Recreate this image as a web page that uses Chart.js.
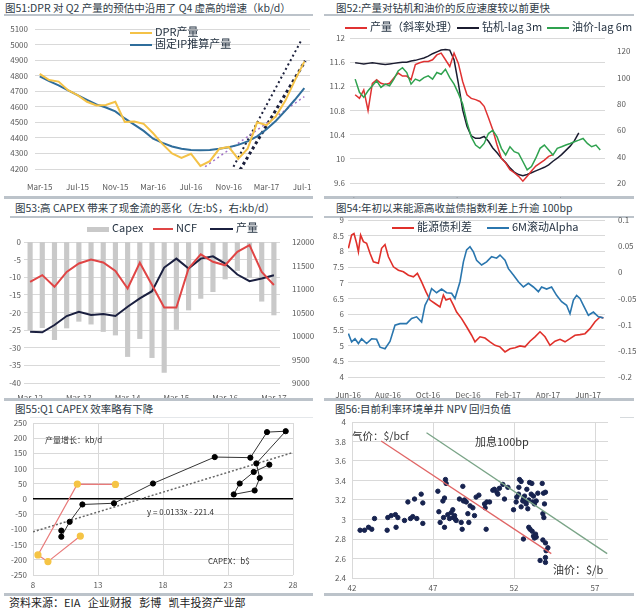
<!DOCTYPE html>
<html>
<head>
<meta charset="utf-8">
<script src="https://cdn.jsdelivr.net/npm/chart.js@4.4.0/dist/chart.umd.min.js"></script>
<style>
  body { margin: 0; width: 640px; height: 610px; background: #fff; position: relative; overflow: hidden;
         font-family: "Noto Sans CJK SC", "Noto Sans", sans-serif; }
  canvas { position: absolute; }
  .t { position: absolute; font-size: 10.5px; line-height: 13px; color: #2e3a46; white-space: nowrap; }
  .rule { position: absolute; background: #bcc3ca; }
  .lg { position: absolute; font-size: 11px; line-height: 12px; color: #1f2d3d; white-space: nowrap; z-index: 2; }
  .lg i { display: inline-block; width: 22px; height: 2px; vertical-align: middle; margin-right: 3px; }
  .note { position: absolute; color: #333; white-space: nowrap; z-index: 2; }
</style>
</head>
<body>

<!-- 标题与分隔线 -->
<div class="t" style="left:5px;top:1px">图51:DPR 对 Q2 产量的预估中沿用了 Q4 虚高的增速（kb/d）</div>
<div class="t" style="left:336px;top:1px">图52:产量对钻机和油价的反应速度较以前更快</div>
<div class="t" style="left:15px;top:201px">图53:高 CAPEX 带来了现金流的恶化（左:b$，右:kb/d）</div>
<div class="t" style="left:336px;top:201px">图54:年初以来能源高收益债指数利差上升逾 100bp</div>
<div class="t" style="left:15px;top:402px">图55:Q1 CAPEX 效率略有下降</div>
<div class="t" style="left:335px;top:402px">图56:目前利率环境单井 NPV 回归负值</div>
<div class="t" style="left:9px;top:596px;font-size:11px;color:#222">资料来源：EIA&nbsp;&nbsp;&nbsp;企业财报&nbsp;&nbsp;&nbsp;彭博&nbsp;&nbsp;&nbsp;凯丰投资产业部</div>

<div class="rule" style="left:4px;top:14px;width:309px;height:2px"></div>
<div class="rule" style="left:324px;top:14px;width:310px;height:2px"></div>
<div class="rule" style="left:4px;top:196px;width:309px;height:3px"></div>
<div class="rule" style="left:324px;top:196px;width:310px;height:3px"></div>
<div class="rule" style="left:10px;top:216px;width:303px;height:2px"></div>
<div class="rule" style="left:324px;top:216px;width:310px;height:2px"></div>
<div class="rule" style="left:4px;top:398px;width:309px;height:3px"></div>
<div class="rule" style="left:324px;top:398px;width:310px;height:3px"></div>
<div class="rule" style="left:30px;top:417px;width:283px;height:1px;background:#e4e7ea"></div>
<div class="rule" style="left:620px;top:417px;width:14px;height:1px;background:#d6dadd"></div>
<div class="rule" style="left:4px;top:593px;width:309px;height:3px"></div>
<div class="rule" style="left:324px;top:593px;width:310px;height:3px"></div>

<canvas id="c51" width="312" height="172" style="left:0;top:20px"></canvas>
<canvas id="c52" width="318" height="166" style="left:322px;top:32px"></canvas>
<canvas id="c53" width="318" height="166" style="left:0;top:232px"></canvas>
<canvas id="c54" width="318" height="184" style="left:322px;top:214px"></canvas>
<canvas id="c55" width="318" height="182" style="left:0;top:412px"></canvas>
<canvas id="c56" width="318" height="182" style="left:322px;top:412px"></canvas>

<!-- 图例 -->
<div class="lg" style="left:130px;top:25px"><i style="background:#f4c247"></i>DPR产量</div>
<div class="lg" style="left:130px;top:37px"><i style="background:#2f6d9b"></i>固定IP推算产量</div>

<div class="lg" style="left:345px;top:20px"><i style="background:#e03232"></i>产量（斜率处理）</div>
<div class="lg" style="left:457px;top:20px"><i style="background:#1b1c30"></i>钻机-lag 3m</div>
<div class="lg" style="left:547px;top:20px"><i style="background:#2fa24f"></i>油价-lag 6m</div>

<div class="lg" style="left:87px;top:221px"><i style="background:#c9c9c9;height:5px"></i>Capex</div>
<div class="lg" style="left:153px;top:221px"><i style="background:#e04545;width:20px"></i>NCF</div>
<div class="lg" style="left:210px;top:221px"><i style="background:#1b2040;width:23px"></i>产量</div>

<div class="lg" style="left:392px;top:220px"><i style="background:#e0302a"></i>能源债利差</div>
<div class="lg" style="left:487px;top:220px"><i style="background:#2a76ae"></i>6M滚动Alpha</div>

<div class="note" style="left:45px;top:434px;font-size:8px">产量增长：kb/d</div>
<div class="note" style="left:147px;top:506px;font-size:8px">y = 0.0133x - 221.4</div>
<div class="note" style="left:208px;top:555px;font-size:8px">CAPEX：b$</div>

<div class="note" style="left:352px;top:428px;font-size:10.5px">气价：$/bcf</div>
<div class="note" style="left:475px;top:433px;font-size:11px">加息100bp</div>
<div class="note" style="left:553px;top:561px;font-size:11px">油价：$/b</div>

<script>
// ---------- 图51 数据（月度，Mar-15 起）----------
const dprTicks = ['Mar-15', 'Jul-15', 'Nov-15', 'Mar-16', 'Jul-16', 'Nov-16', 'Mar-17', 'Jul-17'];
const dprTickPos = [0, 4, 8, 12, 16, 20, 24, 28];
const dprOutput = [4812, 4772, 4762, 4707, 4675, 4632, 4608, 4612, 4632, 4502, 4505, 4490, 4430, 4360, 4300,
  4272, 4298, 4220, 4250, 4330, 4342, 4265, 4330, 4500, 4482, 4540, 4640, 4770, 4890];
const ipOutput = [4795, 4765, 4738, 4705, 4675, 4645, 4615, 4595, 4570, 4525, 4485, 4445, 4395, 4368, 4345,
  4330, 4322, 4320, 4322, 4330, 4340, 4355, 4378, 4410, 4455, 4510, 4575, 4645, 4720];
const fitPurple = [{ x: 17.5, y: 4215 }, { x: 28, y: 4665 }];
const fitBlack = [{ x: 20.5, y: 4215 }, { x: 27.75, y: 5035 }];
const fitNavy = [{ x: 21.2, y: 4195 }, { x: 28.1, y: 4895 }];

// ---------- 图52 数据（月度，Jul-13 起）----------
const lagTicks = ['Jul-13', 'Mar-14', 'Nov-14', 'Jul-15', 'Mar-16', 'Nov-16', 'Jul-17', 'Mar-18'];
const lagTickPos = [0, 8, 16, 24, 32, 40, 48, 56];
const prodSlope = [11.06, 11.0, 11.14, 10.80, 11.25, 11.31, 11.25, 11.23, 11.25, 11.34, 11.42, 11.37, 11.37,
  11.31, 11.56, 11.59, 11.61, 11.61, 11.64, 11.72, 11.75, 11.64, 11.53, 11.75, 11.58, 11.28, 11.06, 11.0, 10.98,
  10.95, 10.87, 10.68, 10.48, 10.23, 10.01, 9.93, 9.82, 9.77, 9.71, 9.63, 9.71, 9.80, 9.88, 9.93, 9.98, 10.04, 10.07];
const rigLag = [11.59, 11.58, 11.57, 11.58, 11.59, 11.58, 11.57, 11.56, 11.57, 11.58, 11.59, 11.60, 11.60, 11.62,
  11.63, 11.65, 11.67, 11.70, 11.74, 11.77, 11.80, 11.81, 11.80, 11.64, 11.25, 10.81, 10.54, 10.38, 10.34, 10.34,
  10.37, 10.29, 10.18, 10.10, 10.01, 9.94, 9.85, 9.78, 9.74, 9.72, 9.74, 9.77, 9.80, 9.83, 9.86, 9.90, 9.96, 10.01,
  10.07, 10.14, 10.21, 10.30, 10.43];
const oilLag = [98.8, 88.8, 85, 90, 93.8, 97.5, 92.5, 95, 93.8, 98.8, 105, 107.5, 103.8, 95, 98.8, 97.5, 100,
  101.3, 98.8, 103.8, 102.5, 106.3, 100, 95, 88, 80, 66, 55, 48.8, 46.3, 50, 57.5, 60, 55, 46.3, 41.3, 47.5,
  43.8, 42.5, 36.3, 30, 32.5, 38.8, 46.3, 48.8, 45, 41.3, 46.3, 47.5, 48.8, 50, 51.3, 52.5, 53.8, 50, 47.5, 48.8, 45];

// ---------- 图53 数据（季度）----------
const quarters = ['Mar-12', 'Jun-12', 'Sep-12', 'Dec-12', 'Mar-13', 'Jun-13', 'Sep-13', 'Dec-13', 'Mar-14',
  'Jun-14', 'Sep-14', 'Dec-14', 'Mar-15', 'Jun-15', 'Sep-15', 'Dec-15', 'Mar-16', 'Jun-16', 'Sep-16', 'Dec-16', 'Mar-17'];
const capex = [-24.9, -24.3, -27.7, -24.4, -22.5, -23.3, -25.4, -26.4, -32.5, -27.4, -32.8, -37.0, -24.8, -19.3,
  -16.0, -14.1, -10.5, -8.1, -10.0, -16.8, -20.7];
const ncf = [-11.3, -9.4, -12.7, -8.5, -6.1, -5.0, -5.8, -8.2, -13.2, -5.9, -12.2, -18.6, -18.6, -7.5, -3.5,
  -5.6, -6.6, -2.8, -0.9, -8.5, -12.2];
const prod53 = [10093, 10080, 10234, 10425, 10516, 10446, 10467, 10425, 10622, 10800, 10954, 11456, 11646,
  11435, 11646, 11695, 11541, 11308, 11166, 11223, 11293];

// ---------- 图54 数据（x 为自 Jun-16 起的月数）----------
const hyTicks = ['Jun-16', 'Aug-16', 'Oct-16', 'Dec-16', 'Feb-17', 'Apr-17', 'Jun-17'];
const hyTickPos = [0, 2, 4, 6, 8, 10, 12];
const spreadX = [0.02, 0.18, 0.30, 0.43, 0.52, 0.63, 0.77, 0.93, 1.10, 1.27, 1.52, 1.68, 1.85, 2.02, 2.27, 2.52,
  2.77, 3.02, 3.27, 3.47, 3.68, 3.90, 4.10, 4.35, 4.60, 4.77, 4.90, 5.10, 5.27, 5.43, 5.68, 5.93, 6.18, 6.35, 6.60,
  6.85, 7.10, 7.35, 7.60, 7.85, 8.10, 8.35, 8.60, 8.85, 9.10, 9.35, 9.60, 9.85, 10.10, 10.35, 10.60, 10.85, 11.10,
  11.35, 11.60, 11.85, 12.10, 12.35, 12.60, 12.77];
const spreadY = [8.10, 8.52, 8.57, 8.26, 7.99, 8.52, 8.31, 8.26, 7.94, 7.67, 7.62, 8.10, 8.22, 7.83, 7.51, 7.40,
  7.35, 7.24, 7.19, 7.30, 7.03, 6.71, 6.45, 6.34, 6.23, 6.61, 6.45, 6.50, 6.29, 6.07, 5.86, 5.60, 5.33, 5.12, 5.28,
  5.24, 5.12, 5.01, 4.96, 4.80, 4.90, 4.93, 4.99, 4.96, 5.14, 5.28, 5.44, 5.28, 5.01, 5.14, 5.20, 5.12, 5.22, 5.33,
  5.35, 5.38, 5.54, 5.76, 5.91, 5.88];
const alphaX = [0.02, 0.18, 0.35, 0.52, 0.68, 0.93, 1.18, 1.43, 1.60, 1.85, 2.10, 2.35, 2.60, 2.93, 3.18, 3.43,
  3.68, 3.85, 4.02, 4.18, 4.43, 4.68, 4.93, 5.18, 5.35, 5.60, 5.77, 5.93, 6.10, 6.27, 6.43, 6.68, 6.93, 7.18, 7.43,
  7.60, 7.85, 8.02, 8.27, 8.52, 8.77, 9.02, 9.27, 9.52, 9.68, 9.93, 10.18, 10.43, 10.68, 10.93, 11.10, 11.27, 11.43,
  11.60, 11.77, 12.02, 12.27, 12.52, 12.77];
const alphaY = [-0.117, -0.133, -0.127, -0.136, -0.127, -0.136, -0.127, -0.128, -0.143, -0.146, -0.132, -0.101,
  -0.098, -0.098, -0.088, -0.085, -0.095, -0.063, -0.050, -0.031, -0.039, -0.032, -0.039, -0.040, -0.050, -0.018,
  0.020, 0.043, 0.049, 0.039, 0.023, 0.014, 0.020, 0.030, 0.027, 0.033, 0.023, 0.007, -0.005, -0.018, -0.028,
  -0.021, -0.028, -0.037, -0.028, -0.032, -0.028, -0.044, -0.056, -0.063, -0.079, -0.053, -0.044, -0.050, -0.063,
  -0.082, -0.076, -0.085, -0.087];

// ---------- 图55 数据（CAPEX b$ vs 产量增长 kb/d）----------
const q1CapexX = [10.18, 10.18, 10.82, 11.8, 14.23, 17.23, 21.98, 24.72, 26.0, 27.44, 25.18, 25.44, 25.05, 23.44,
  23.9, 24.98, 26.18];
const q1GrowthY = [-104, -124, -75, -18, -14, 51, 138, 136, 220, 223, 117, 69, 28, 15, 51, 89, 113];
const newCapexX = [11.64, 9.15, 8.38, 11.41, 14.34];
const newGrowthY = [-122, -206, -184, 49, 48];
const capexFit = [{ x: 8, y: -108 }, { x: 28, y: 153 }];

// ---------- 图56 数据（油价 $/b vs 气价 $/bcf）----------
const oilPx = [42.50, 42.77, 43.02, 43.22, 43.39, 44.17, 44.21, 44.42, 44.68, 44.72, 44.83, 45.24, 45.45, 45.61,
  45.75, 45.86, 46.0, 46.27, 46.37, 46.37,
  47.30, 47.36, 47.44, 47.61, 47.71, 47.65, 47.71, 47.77, 47.81, 47.91, 48.02, 48.12, 48.22, 48.26, 48.33, 48.39,
  48.43, 48.63, 48.74, 48.80, 48.84, 48.88, 48.94, 49.05, 49.15, 49.21, 49.29, 49.46, 49.56, 49.66, 49.83, 50.18,
  50.22, 50.28, 50.32, 50.49, 50.69, 50.79, 50.94, 51.0, 51.10, 51.31, 51.41, 51.62,
  51.97, 52.13, 52.17, 52.28, 52.34, 52.44, 52.30, 52.44, 52.54, 52.58, 52.65, 52.71, 52.75, 52.79, 52.85, 52.91,
  52.96, 53.06, 53.10, 53.16, 53.20, 53.26, 53.37, 53.47, 53.74, 53.82, 53.88, 53.94, 53.78, 53.84, 52.91, 52.99,
  53.12, 53.20, 53.26, 53.37, 53.33, 52.58, 53.78, 53.94, 53.98, 53.94, 53.61, 53.94, 54.09];
const gasPx = [2.89, 2.89, 2.92, 2.90, 3.01, 2.89, 3.02, 3.04, 3.05, 2.92, 3.02, 2.99, 3.18, 3.01,
  3.03, 3.21, 3.01, 3.26, 3.17, 2.96,
  3.29, 3.08, 2.97, 3.19, 3.22, 3.02, 2.92, 3.41, 3.37, 3.05, 3.01, 3.07, 3.10, 3.02, 3.04, 3.00,
  2.99, 3.21, 2.97, 2.90, 3.34, 3.19, 3.20, 3.18, 3.06, 2.97, 3.14, 3.12, 3.04, 3.23, 3.25, 3.16,
  3.12, 2.90, 3.18, 3.18, 3.30, 3.31, 3.28, 3.26, 3.32, 3.36, 3.21, 3.33,
  3.10, 3.18, 3.23, 3.26, 3.41, 3.39, 3.33, 3.13, 3.19, 3.21, 3.24, 3.18, 3.16, 3.31, 3.11, 3.20,
  3.38, 3.26, 3.37, 3.18, 3.24, 3.16, 3.19, 3.27, 3.37, 3.27, 3.16, 3.28, 3.06, 3.02, 2.92, 2.90,
  2.88, 2.83, 2.81, 2.82, 2.85, 2.80, 2.79, 2.76, 2.68, 2.61, 2.58, 2.56, 2.71];
const npvLine = [{ x: 43.8, y: 3.805 }, { x: 54.3, y: 2.65 }];
const npvLineHike = [{ x: 46.6, y: 3.89 }, { x: 57.75, y: 2.65 }];

// ---------- 通用设置 ----------
Chart.defaults.font.family = '"Noto Sans CJK SC", "Noto Sans", sans-serif';
Chart.defaults.font.size = 8;
Chart.defaults.color = '#595959';
Chart.defaults.animation = false;
Chart.defaults.responsive = false;
Chart.defaults.plugins.legend.display = false;
Chart.defaults.plugins.tooltip.enabled = false;
Chart.defaults.elements.point.radius = 0;
Chart.defaults.elements.line.tension = 0;

const GRID = '#d9d9d9';
const xy = (xs, ys) => xs.map((x, i) => ({ x: x, y: ys[i] }));
const idx = ys => ys.map((y, i) => ({ x: i, y: y }));

// 固定坐标轴尺寸，方便对齐原图
function sizeX(h) { return s => { s.height = h; s.paddingLeft = 0; s.paddingRight = 0; }; }
function sizeY(w) { return s => { s.width = w; s.paddingTop = 0; s.paddingBottom = 0; }; }
function fixTicks(vals) { return s => { s.ticks = vals.map(v => ({ value: v })); }; }
const dec = n => v => String(+Number(v).toFixed(n));

// 图51
new Chart(document.getElementById('c51'), {
  type: 'line',
  data: {
    datasets: [
      { data: idx(dprOutput), borderColor: '#f4c247', borderWidth: 2 },
      { data: idx(ipOutput), borderColor: '#2f6d9b', borderWidth: 2 },
      { data: fitPurple, borderColor: '#a070c8', borderWidth: 1.5, borderDash: [2, 3] },
      { data: fitBlack, borderColor: '#1b1f3b', borderWidth: 2, borderDash: [2, 3] },
      { data: fitNavy, borderColor: '#1b1f3b', borderWidth: 3, borderDash: [3, 3] }
    ]
  },
  options: {
    layout: { padding: { top: 9, right: 2 } },
    scales: {
      x: {
        type: 'linear', min: -0.5, max: 28.6,
        grid: { display: false }, border: { display: false },
        ticks: { padding: 5, maxRotation: 0, callback: (v, i) => dprTicks[i] },
        afterBuildTicks: fixTicks(dprTickPos), afterFit: sizeX(23)
      },
      y: {
        min: 4200, max: 5100,
        ticks: { stepSize: 100, padding: 7, callback: v => String(v) },
        grid: { color: GRID, drawTicks: false }, border: { display: false },
        afterFit: sizeY(35)
      }
    }
  }
});

// 图52
new Chart(document.getElementById('c52'), {
  type: 'line',
  data: {
    datasets: [
      { data: idx(oilLag), yAxisID: 'y1', borderColor: '#2fa24f', borderWidth: 1.5 },
      { data: idx(prodSlope), yAxisID: 'y', borderColor: '#e03232', borderWidth: 1.5 },
      { data: idx(rigLag), yAxisID: 'y', borderColor: '#1b1c30', borderWidth: 1.5 }
    ]
  },
  options: {
    layout: { padding: { top: 6 } },
    scales: {
      x: {
        type: 'linear', min: -1.2, max: 58.1,
        grid: { display: false }, border: { display: false },
        ticks: { padding: 5, maxRotation: 0, callback: (v, i) => lagTicks[i] },
        afterBuildTicks: fixTicks(lagTickPos), afterFit: sizeX(15)
      },
      y: {
        position: 'left', min: 9.6, max: 12,
        ticks: { stepSize: 0.4, padding: 5, callback: dec(1) },
        grid: { color: GRID, drawTicks: false }, border: { display: false },
        afterFit: sizeY(28)
      },
      y1: {
        position: 'right', min: 20, max: 130,
        ticks: { padding: 4 },
        grid: { display: false }, border: { display: false },
        afterBuildTicks: fixTicks([20, 40, 60, 80, 100, 120]), afterFit: sizeY(35)
      }
    }
  }
});

// 图53
new Chart(document.getElementById('c53'), {
  type: 'bar',
  data: {
    labels: quarters,
    datasets: [
      { type: 'line', data: ncf, yAxisID: 'y', borderColor: '#e04545', borderWidth: 2, order: 1 },
      { type: 'line', data: prod53, yAxisID: 'y1', borderColor: '#1b2040', borderWidth: 2, order: 1 },
      { type: 'bar', data: capex, yAxisID: 'y', backgroundColor: '#c9c9c9', barThickness: 4.5, order: 2 }
    ]
  },
  options: {
    layout: { padding: { top: 10 } },
    scales: {
      x: {
        offset: true,
        grid: { display: false }, border: { display: false },
        ticks: { padding: 2, maxRotation: 0, autoSkip: false, callback: (v, i) => (i % 4 === 0 ? quarters[i] : '') },
        afterFit: sizeX(15)
      },
      y: {
        position: 'left', min: -40, max: 0,
        ticks: { stepSize: 5, padding: 3 },
        grid: { color: GRID, drawTicks: false }, border: { display: false },
        afterFit: sizeY(24)
      },
      y1: {
        position: 'right', min: 9000, max: 12000,
        ticks: { stepSize: 500, padding: 4, callback: v => String(v) },
        grid: { display: false }, border: { display: false },
        afterFit: sizeY(38)
      }
    }
  }
});

// 图54
new Chart(document.getElementById('c54'), {
  type: 'line',
  data: {
    datasets: [
      { data: xy(alphaX, alphaY), yAxisID: 'y1', borderColor: '#2a76ae', borderWidth: 1.6 },
      { data: xy(spreadX, spreadY), yAxisID: 'y', borderColor: '#e0302a', borderWidth: 1.6 }
    ]
  },
  options: {
    layout: { padding: { top: 6 } },
    scales: {
      x: {
        type: 'linear', min: 0, max: 12.85,
        grid: { display: false }, border: { display: false },
        ticks: { padding: 5, maxRotation: 0, callback: (v, i) => hyTicks[i] },
        afterBuildTicks: fixTicks(hyTickPos), afterFit: sizeX(21)
      },
      y: {
        position: 'left', min: 4, max: 9,
        ticks: { stepSize: 0.5, padding: 4, callback: dec(1) },
        grid: { color: GRID, drawTicks: false }, border: { display: false },
        afterFit: sizeY(26)
      },
      y1: {
        position: 'right', min: -0.2, max: 0.1,
        ticks: { stepSize: 0.05, padding: 5, callback: dec(2) },
        grid: { display: false }, border: { display: false },
        afterFit: sizeY(35)
      }
    }
  }
});

// 图55
new Chart(document.getElementById('c55'), {
  type: 'scatter',
  data: {
    datasets: [
      { data: xy(q1CapexX, q1GrowthY), showLine: true, borderColor: '#333', borderWidth: 1,
        pointRadius: 2.6, pointBackgroundColor: '#000', pointBorderColor: '#000' },
      { data: xy(newCapexX, newGrowthY), showLine: true, borderColor: '#e87a7a', borderWidth: 1.2,
        pointRadius: 3, pointBackgroundColor: '#f5c445', pointBorderColor: '#f5c445' },
      { data: capexFit, showLine: true, borderColor: '#666', borderWidth: 1.5, borderDash: [2, 2], pointRadius: 0 }
    ]
  },
  options: {
    layout: { padding: { top: 11, right: 25 } },
    scales: {
      x: {
        type: 'linear', min: 8, max: 28,
        ticks: { stepSize: 5, padding: 5 },
        grid: { color: GRID, drawTicks: false }, border: { display: false },
        afterFit: sizeX(19)
      },
      y: {
        min: -250, max: 250,
        ticks: { stepSize: 50, padding: 6 },
        grid: {
          color: c => (c.tick.value === 0 ? '#000' : GRID),
          lineWidth: c => (c.tick.value === 0 ? 1.5 : 1),
          drawTicks: false
        },
        border: { display: false },
        afterFit: sizeY(33)
      }
    }
  }
});

// 图56
new Chart(document.getElementById('c56'), {
  type: 'scatter',
  data: {
    datasets: [
      { data: npvLine, showLine: true, borderColor: '#e06565', borderWidth: 1.3, pointRadius: 0 },
      { data: npvLineHike, showLine: true, borderColor: '#7aa487', borderWidth: 1.3, pointRadius: 0 },
      { data: xy(oilPx, gasPx), pointRadius: 2.2, pointBackgroundColor: '#17234f', pointBorderColor: '#17234f' }
    ]
  },
  options: {
    layout: { padding: { top: 10, right: 32 } },
    scales: {
      x: {
        type: 'linear', min: 42, max: 57.8,
        ticks: { padding: 5 },
        grid: { color: GRID, drawTicks: false }, border: { display: false },
        afterBuildTicks: fixTicks([42, 47, 52, 57]), afterFit: sizeX(16)
      },
      y: {
        min: 2.4, max: 4,
        ticks: { stepSize: 0.2, padding: 6, callback: dec(1) },
        grid: { color: GRID, drawTicks: false }, border: { display: false },
        afterFit: sizeY(30)
      }
    }
  }
});
</script>
</body>
</html>
